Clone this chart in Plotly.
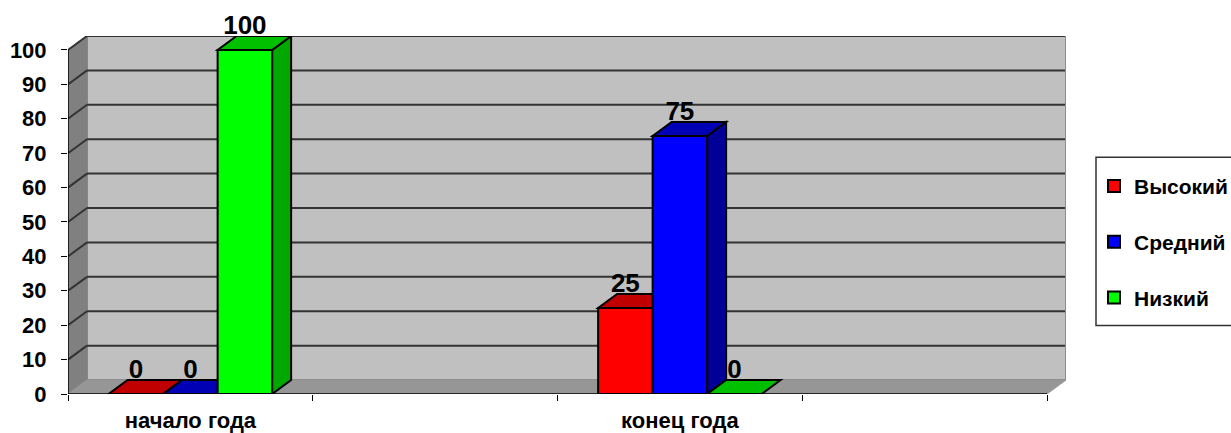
import plotly.graph_objects as go

CATEGORIES = ["начало года", " ", "конец года", "  "]
GROUPS = ["начало года", "конец года"]
VYSOKIY = [0, 25]
SREDNIY = [0, 75]
NIZKIY = [100, 0]
Y_TICKS = [0, 10, 20, 30, 40, 50, 60, 70, 80, 90, 100]

BAR_GAP = 0.332
DX = 0.0776   # depth of the fake 3d box, x units
DY = 4.06     # depth of the fake 3d box, y units
X_LEFT = -0.5
X_RIGHT = 3.5

SERIES = [
    ("Высокий", VYSOKIY, "#ff0000", "#c00000", "#990000"),
    ("Средний", SREDNIY, "#0000ff", "#0000b4", "#000099"),
    ("Низкий", NIZKIY, "#00ff00", "#00c000", "#00a800"),
]


def poly(points, fill, line="#000000", width=2):
    path = "M" + " L".join(f"{x},{y}" for x, y in points) + " Z"
    return dict(type="path", path=path, xref="x", yref="y", layer="below",
                fillcolor=fill, line=dict(color=line, width=width))


def seg(x0, y0, x1, y1, color="#333333", width=2, layer="below"):
    return dict(type="line", x0=x0, y0=y0, x1=x1, y1=y1, xref="x", yref="y",
                layer=layer, line=dict(color=color, width=width))


shapes = []
# walls and floor
shapes.append(poly([(X_LEFT + DX, DY), (X_RIGHT + DX, DY), (X_RIGHT + DX, 100 + DY), (X_LEFT + DX, 100 + DY)],
                   "#c0c0c0", "#8c8c8c", 2))
shapes.append(poly([(X_LEFT, 0), (X_LEFT + DX, DY), (X_LEFT + DX, 100 + DY), (X_LEFT, 100)],
                   "#808080", "#808080", 1))
shapes.append(poly([(X_LEFT, 0), (X_RIGHT, 0), (X_RIGHT + DX, DY), (X_LEFT + DX, DY)],
                   "#969696", "#969696", 1))
for v in Y_TICKS[1:]:
    shapes.append(seg(X_LEFT, v, X_LEFT + DX, v + DY))
    shapes.append(seg(X_LEFT + DX, v + DY, X_RIGHT + DX - 0.004, v + DY))

w = (1 - BAR_GAP) / len(SERIES)
fig = go.Figure()
for j, (name, values, front, top, side) in enumerate(SERIES):
    fig.add_trace(go.Bar(x=GROUPS, y=values, name=name, legendgroup=name,
                         marker=dict(color=front, line=dict(color="#000000", width=2))))
    for g, v in zip(GROUPS, values):
        i = CATEGORIES.index(g)
        x0 = i - 1.5 * w + j * w
        x1 = x0 + w
        if v > 0:
            shapes.append(poly([(x1, 0), (x1, v), (x1 + DX, v + DY), (x1 + DX, DY)], side))
        shapes.append(poly([(x0, v), (x1, v), (x1 + DX, v + DY), (x0 + DX, v + DY)], top))

# value labels sit above the top face of each box, on a plain numeric overlay axis
for j, (name, values, front, top, side) in enumerate(SERIES):
    fig.add_trace(go.Scatter(x=[CATEGORIES.index(g) - w + j * w for g in GROUPS],
                             y=[v + DY - 1.2 for v in values], mode="text",
                             text=[str(v) for v in values], textposition="top center",
                             showlegend=False, hoverinfo="skip", cliponaxis=False,
                             xaxis="x2", yaxis="y",
                             textfont=dict(family="Liberation Sans", size=26, color="#000000", weight="bold")))

# front axis lines
shapes.append(seg(X_LEFT, 0, X_RIGHT, 0, "#000000", 1.5, "above"))
shapes.append(seg(X_LEFT, 0, X_LEFT, 100, "#000000", 1.5, "above"))
# legend box runs off the right of the page
PLOT_W = 998
PLOT_H = 358.5
shapes.append(dict(type="rect", xref="paper", yref="paper", layer="below",
                   x0=(1096 - 68) / PLOT_W, x1=(1240 - 68) / PLOT_W,
                   y0=(394.5 - 326) / PLOT_H, y1=(394.5 - 157.5) / PLOT_H,
                   fillcolor="#ffffff", line=dict(color="#333333", width=1.5)))

font = dict(family="Liberation Sans", color="#000000", weight="bold")
fig.update_layout(
    width=1231, height=433, autosize=False,
    margin=dict(l=68, r=165, t=36, b=38.5, autoexpand=False),
    paper_bgcolor="#ffffff", plot_bgcolor="#ffffff",
    barmode="group", bargap=BAR_GAP, bargroupgap=0,
    shapes=shapes, showlegend=True,
    legend=dict(x=(1094 - 68) / PLOT_W, y=(394.5 - 166) / PLOT_H, xanchor="left", yanchor="top",
                traceorder="grouped", tracegroupgap=25.5, borderwidth=0, bgcolor="rgba(0,0,0,0)",
                font=dict(size=21, **font)),
    xaxis=dict(type="category", categoryorder="array", categoryarray=CATEGORIES,
               tickvals=CATEGORIES, ticktext=CATEGORIES,
               range=[X_LEFT, X_RIGHT + DX], tickson="boundaries", ticks="outside", ticklen=6,
               tickcolor="#000000", showgrid=False, showline=False, zeroline=False,
               ticklabelstandoff=11, tickfont=dict(size=22, **font)),
    xaxis2=dict(range=[X_LEFT, X_RIGHT + DX], overlaying="x", visible=False),
    yaxis=dict(range=[0, 100 + DY], tickvals=Y_TICKS, ticks="outside", ticklen=6,
               tickcolor="#000000", showgrid=False, showline=False, zeroline=False,
               ticklabelstandoff=10, tickfont=dict(size=22, **font)),
)

fig.write_html("out.html", post_script="document.body.style.margin='0';",
               config=dict(displayModeBar=False))
